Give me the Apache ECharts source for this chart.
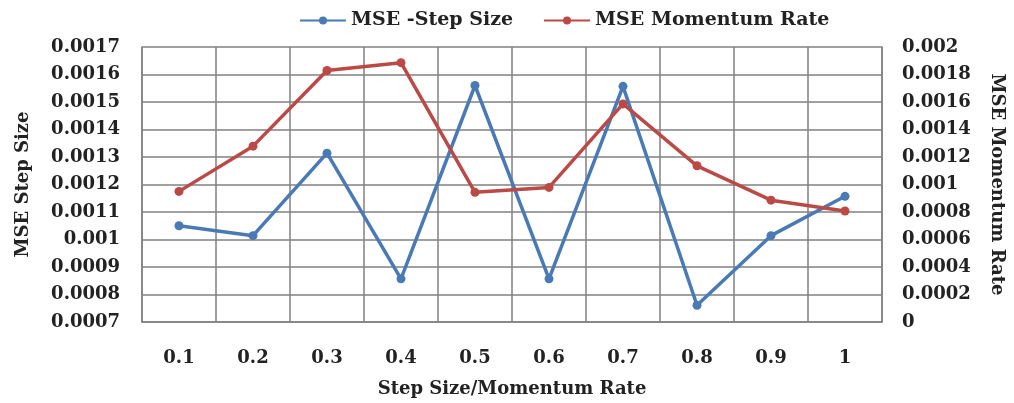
<!DOCTYPE html>
<html>
<head>
<meta charset="utf-8">
<script src="https://cdn.jsdelivr.net/npm/echarts@6/dist/echarts.min.js"></script>
<style>
    html, body { margin: 0; padding: 0; background: #fff; }
    #chart { width: 1014px; height: 403px; }
</style>
</head>
<body>
<div id="chart"></div>
<script>
// x categories
var categories = ["0.1", "0.2", "0.3", "0.4", "0.5", "0.6", "0.7", "0.8", "0.9", "1"];
// MSE vs step size (left axis)
var mseStepSize = [0.00105, 0.001014, 0.001314, 0.000857, 0.00156, 0.000857, 0.001557, 0.000761, 0.001014, 0.001157];
// MSE vs momentum rate (right axis)
var mseMomentum = [0.00095, 0.001279, 0.001829, 0.001886, 0.000943, 0.000979, 0.001586, 0.001136, 0.000886, 0.000807];

var serif = "DejaVu Serif";
var fmt = function (v) {
    return String(parseFloat(v.toFixed(5)));
};
var lbl = { fontFamily: serif, fontWeight: "bold", fontSize: 18, color: "#222" };

var myChart = echarts.init(document.getElementById("chart"));
var option = {
    animation: false,
    textStyle: { fontFamily: serif },
    //图例
    legend: {
        top: 6,
        left: 294,
        itemWidth: 46,
        itemHeight: 10,
        itemGap: 30,
        textStyle: { fontFamily: serif, fontWeight: "bold", fontSize: 19, color: "#222" },
        data: ["MSE -Step Size", "MSE Momentum Rate"],
    },
    grid: { left: 142, right: 132, top: 47, bottom: 76 },
    xAxis: {
        type: "category",
        data: categories,
        name: "Step Size/Momentum Rate",
        nameLocation: "middle",
        nameGap: 58,
        nameTextStyle: lbl,
        axisLine: { lineStyle: { color: "#808080", width: 1.5 } },
        axisTick: { show: false },
        axisLabel: Object.assign({ margin: 27 }, lbl),
        splitLine: { show: true, lineStyle: { color: "#808080", width: 1.5 } },
    },
    yAxis: [
        {
            type: "value",
            min: 0.0007,
            max: 0.0017,
            interval: 0.0001,
            name: "MSE Step Size",
            nameLocation: "middle",
            nameRotate: 90,
            nameGap: 110,
            nameTextStyle: lbl,
            axisLine: { show: true, lineStyle: { color: "#808080", width: 1.5 } },
            axisLabel: Object.assign({ margin: 22, formatter: fmt }, lbl),
            splitLine: { show: true, lineStyle: { color: "#808080", width: 1.5 } },
        },
        {
            type: "value",
            min: 0,
            max: 0.002,
            interval: 0.0002,
            name: "MSE Momentum Rate",
            nameLocation: "middle",
            nameRotate: -90,
            nameGap: 106,
            nameTextStyle: lbl,
            axisLine: { show: true, lineStyle: { color: "#808080", width: 1.5 } },
            axisLabel: Object.assign({ margin: 20, formatter: fmt }, lbl),
            splitLine: { show: false },
        },
    ],
    series: [
        {
            name: "MSE -Step Size",
            type: "line",
            yAxisIndex: 0,
            data: mseStepSize,
            symbol: "circle",
            symbolSize: 9,
            color: "#4a7ab5",
            lineStyle: { width: 3.5 },
        },
        {
            name: "MSE Momentum Rate",
            type: "line",
            yAxisIndex: 1,
            data: mseMomentum,
            symbol: "circle",
            symbolSize: 9,
            color: "#bb4a47",
            lineStyle: { width: 3.5 },
        },
    ],
};
myChart.setOption(option);
</script>
</body>
</html>
